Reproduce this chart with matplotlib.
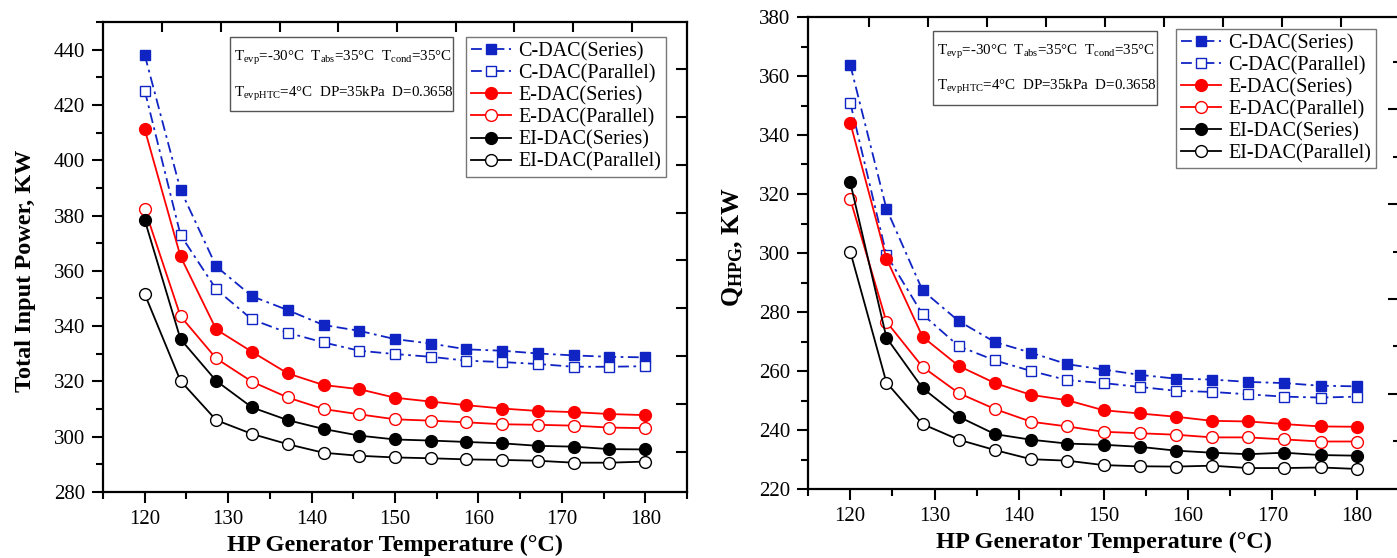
import matplotlib
matplotlib.use("Agg")
import matplotlib.pyplot as plt
from matplotlib.patches import Rectangle
from matplotlib.ticker import MultipleLocator, FixedLocator, NullFormatter

plt.rcParams["font.family"] = "Liberation Serif"
plt.rcParams["mathtext.fontset"] = "custom"
plt.rcParams["mathtext.rm"] = "Liberation Serif"
plt.rcParams["mathtext.it"] = "Liberation Serif:italic"
plt.rcParams["mathtext.bf"] = "Liberation Serif:bold"

# HP generator temperature (deg C)
gen_temp = [120, 124.29, 128.57, 132.86, 137.14, 141.43, 145.71, 150,
            154.29, 158.57, 162.86, 167.14, 171.43, 175.71, 180]

labels = ["C-DAC(Series)", "C-DAC(Parallel)", "E-DAC(Series)",
          "E-DAC(Parallel)", "EI-DAC(Series)", "EI-DAC(Parallel)"]

# total input power, KW
power_c_ser = [438.1, 389.3, 361.6, 350.8, 345.8, 340.4, 338.3, 335.3, 333.7, 331.6, 331.1, 330.1, 329.4, 328.9, 328.7]
power_c_par = [425.2, 373.0, 353.3, 342.4, 337.6, 334.1, 331.1, 329.9, 328.9, 327.5, 327.0, 326.3, 325.3, 325.3, 325.5]
power_e_ser = [411.2, 365.2, 338.8, 330.7, 322.9, 318.7, 317.2, 314.1, 312.7, 311.4, 310.2, 309.3, 308.9, 308.2, 307.8]
power_e_par = [382.4, 343.6, 328.3, 319.9, 314.2, 310.0, 308.1, 306.3, 305.8, 305.2, 304.5, 304.3, 304.0, 303.3, 303.1]
power_ei_ser = [378.4, 335.3, 320.2, 310.6, 306.0, 302.8, 300.4, 299.0, 298.6, 298.1, 297.6, 296.7, 296.4, 295.5, 295.4]
power_ei_par = [351.6, 320.2, 306.0, 301.0, 297.3, 294.2, 293.1, 292.5, 292.2, 291.8, 291.6, 291.3, 290.6, 290.6, 291.0]

# HP generator heat load, KW
qhpg_c_ser = [363.8, 315.0, 287.3, 276.9, 269.8, 266.2, 262.3, 260.5, 258.7, 257.4, 257.1, 256.3, 255.9, 255.0, 254.8]
qhpg_c_par = [351.0, 299.4, 279.2, 268.4, 263.6, 260.0, 256.9, 255.9, 254.6, 253.3, 252.9, 252.1, 251.3, 251.0, 251.3]
qhpg_e_ser = [344.2, 298.1, 271.6, 261.7, 255.9, 251.9, 250.1, 246.7, 245.6, 244.5, 243.1, 242.9, 242.0, 241.2, 241.1]
qhpg_e_par = [318.3, 276.7, 261.4, 252.5, 247.1, 242.8, 241.2, 239.4, 238.9, 238.4, 237.5, 237.5, 236.8, 236.1, 236.1]
qhpg_ei_ser = [324.0, 271.3, 254.2, 244.5, 238.6, 236.7, 235.4, 235.0, 234.3, 233.0, 232.3, 231.8, 232.3, 231.5, 231.3]
qhpg_ei_par = [300.5, 256.1, 242.0, 236.7, 233.2, 230.1, 229.6, 228.1, 227.7, 227.6, 227.9, 227.1, 227.1, 227.3, 226.8]

blue = "#1024C4"
red = "#FF0000"
dashdot = (0, (6, 2.5, 1.5, 2.5))
styles = [
    dict(color=blue, ls=dashdot, marker="s", mfc=blue, ms=7.5),
    dict(color=blue, ls=dashdot, marker="s", mfc="white", ms=7.5),
    dict(color=red, ls="-", marker="o", mfc=red, ms=8.5),
    dict(color=red, ls="-", marker="o", mfc="white", ms=8.5),
    dict(color="black", ls="-", marker="o", mfc="black", ms=8.5),
    dict(color="black", ls="-", marker="o", mfc="white", ms=8.5),
]

info1 = r"T$_{\rm evp}$=-30°C  T$_{\rm abs}$=35°C  T$_{\rm cond}$=35°C"
info2 = r"T$_{\rm evpHTC}$=4°C  DP=35kPa  D=0.3658"


def draw_panel(ax, series, ylim, ylabel, ylab_size, ylab_xy, top_lim, right_lim,
               right_major, right_minor, leg_anchor, box, txt_x, txt_y):
    for ys, lab, st in zip(series, labels, styles):
        ax.plot(gen_temp, ys, label=lab, lw=1.3, mew=1.0, mec=st["color"], **st)

    ax.set_xlim(115, 185)
    ax.set_ylim(*ylim)
    ax.xaxis.set_major_locator(MultipleLocator(10))
    ax.xaxis.set_minor_locator(MultipleLocator(5))
    ax.yaxis.set_major_locator(MultipleLocator(20))
    ax.yaxis.set_minor_locator(MultipleLocator(10))
    ax.tick_params(which="major", direction="out", length=8, width=1.5, labelsize=15, pad=5)
    ax.tick_params(which="minor", direction="out", length=5, width=1.5)
    for s in ax.spines.values():
        s.set_linewidth(1.6)

    ax.set_xlabel("HP Generator Temperature (°C)", fontsize=17.5, fontweight="bold", labelpad=4.5)
    ax.set_ylabel(ylabel, fontsize=ylab_size, fontweight="bold")
    ax.yaxis.set_label_coords(*ylab_xy)

    # inward ticks along the top edge
    top = ax.twiny()
    top.set_xlim(*top_lim)
    top.xaxis.set_major_locator(FixedLocator(range(9)))
    top.xaxis.set_major_formatter(NullFormatter())
    top.tick_params(axis="x", direction="in", length=7, width=1.5)
    # inward ticks along the right edge
    right = ax.twinx()
    right.set_ylim(*right_lim)
    right.yaxis.set_major_locator(FixedLocator(right_major))
    right.yaxis.set_minor_locator(FixedLocator(right_minor))
    right.yaxis.set_major_formatter(NullFormatter())
    right.tick_params(axis="y", which="major", direction="in", length=8, width=1.5)
    right.tick_params(axis="y", which="minor", direction="in", length=4, width=1.5)
    for tw in (top, right):
        for s in tw.spines.values():
            s.set_visible(False)

    leg = ax.legend(loc="upper right", bbox_to_anchor=leg_anchor, borderaxespad=0,
                    fontsize=14.5, frameon=True, fancybox=False, edgecolor="#777777",
                    framealpha=1, handlelength=2.0, handletextpad=0.35,
                    labelspacing=0.14, borderpad=0.25)
    leg.get_frame().set_linewidth(1.0)

    ax.add_patch(Rectangle((box[0], box[1]), box[2] - box[0], box[3] - box[1],
                           transform=ax.transAxes, fill=False, ec="#555555", lw=1.0))
    ax.text(txt_x, txt_y[0], info1, transform=ax.transAxes, fontsize=10.8, va="center")
    ax.text(txt_x, txt_y[1], info2, transform=ax.transAxes, fontsize=10.8, va="center")


fig = plt.figure(figsize=(13.97, 5.58), dpi=100)
ax1 = fig.add_axes([103 / 1397, 1 - 492 / 558, 584 / 1397, 470 / 558])
ax2 = fig.add_axes([808 / 1397, 1 - 489 / 558, 591 / 1397, 472 / 558])

draw_panel(ax1,
           [power_c_ser, power_c_par, power_e_ser, power_e_par, power_ei_ser, power_ei_par],
           (280, 450), "Total Input Power, KW", 17.5, (-0.115, 0.47),
           (-1.008, 8.94), (-0.835, 8.98), list(range(9)), [],
           (0.964, 0.968), (0.2175, 0.811, 0.599, 0.968), 0.225, (0.923, 0.847))

draw_panel(ax2,
           [qhpg_c_ser, qhpg_c_par, qhpg_e_ser, qhpg_e_par, qhpg_ei_ser, qhpg_ei_par],
           (220, 380), r"Q$_{\mathbf{HPG}}$, KW", 18.5, (-0.107, 0.513),
           (-1.03, 8.98), (-1.013, 8.95), [1, 3, 5, 7], [0, 2, 4, 6, 8],
           (0.961, 0.975), (0.2115, 0.8136, 0.5905, 0.970), 0.218, (0.926, 0.852))

fig.savefig("out.png", dpi=100)
